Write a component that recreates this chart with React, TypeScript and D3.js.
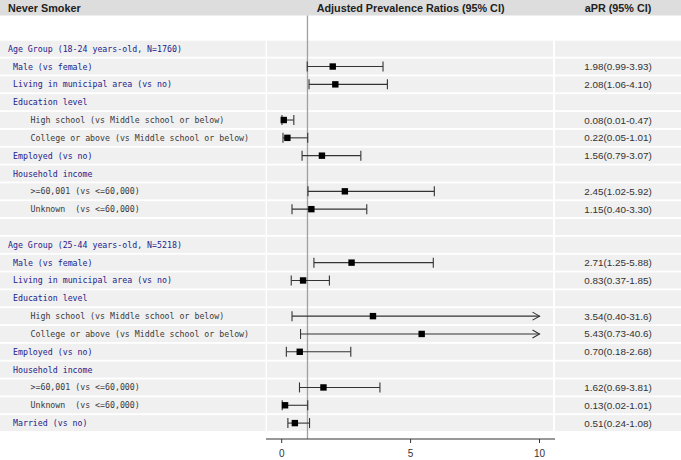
import React from "react";
import * as d3 from "d3";

const labels = [
  "Age Group (18-24 years-old, N=1760)",
  "Male (vs female)",
  "Living in municipal area (vs no)",
  "Education level",
  "High school (vs Middle school or below)",
  "College or above (vs Middle school or below)",
  "Employed (vs no)",
  "Household income",
  ">=60,001 (vs <=60,000)",
  "Unknown  (vs <=60,000)",
  "",
  "Age Group (25-44 years-old, N=5218)",
  "Male (vs female)",
  "Living in municipal area (vs no)",
  "Education level",
  "High school (vs Middle school or below)",
  "College or above (vs Middle school or below)",
  "Employed (vs no)",
  "Household income",
  ">=60,001 (vs <=60,000)",
  "Unknown  (vs <=60,000)",
  "Married (vs no)",
];
const levels = [0, 1, 1, 1, 2, 2, 1, 1, 2, 2, 0, 0, 1, 1, 1, 2, 2, 1, 1, 2, 2, 1];
const estimates: (number | null)[] = [null, 1.98, 2.08, null, 0.08, 0.22, 1.56, null, 2.45, 1.15, null, null, 2.71, 0.83, null, 3.54, 5.43, 0.70, null, 1.62, 0.13, 0.51];
const lowers: (number | null)[] = [null, 0.99, 1.06, null, 0.01, 0.05, 0.79, null, 1.02, 0.40, null, null, 1.25, 0.37, null, 0.40, 0.73, 0.18, null, 0.69, 0.02, 0.24];
const uppers: (number | null)[] = [null, 3.93, 4.10, null, 0.47, 1.01, 3.07, null, 5.92, 3.30, null, null, 5.88, 1.85, null, 31.6, 40.6, 2.68, null, 3.81, 1.01, 1.08];
const ciLabels = ["", "1.98(0.99-3.93)", "2.08(1.06-4.10)", "", "0.08(0.01-0.47)", "0.22(0.05-1.01)", "1.56(0.79-3.07)", "", "2.45(1.02-5.92)", "1.15(0.40-3.30)", "", "", "2.71(1.25-5.88)", "0.83(0.37-1.85)", "", "3.54(0.40-31.6)", "5.43(0.73-40.6)", "0.70(0.18-2.68)", "", "1.62(0.69-3.81)", "0.13(0.02-1.01)", "0.51(0.24-1.08)"];
const xTicks = [0, 5, 10];
const titleLeft = "Never Smoker";
const titleMid = "Adjusted Prevalence Ratios (95% CI)";
const titleRight = "aPR (95% CI)";

export default function App() {
  const W = 681, H = 460;
  const x = d3.scaleLinear().domain([0, 10]).range([281.7, 539.5]);
  const idx = labels.map((_, i) => i);
  const y = d3.scalePoint<number>().domain(idx).range([48.7, 423.1]);
  const bandH = 16;
  const leftCol = [0, 265.5];
  const plotCol = [267, 553];
  const rightCol = [555, 681];
  const axisY = 439;
  const mono = "'DejaVu Sans Mono', monospace";
  const sans = "'Liberation Sans', Arial, sans-serif";
  const clip = (v: number) => Math.min(v, 10);

  return (
    <svg width={W} height={H} style={{ position: "absolute", left: 0, top: 0 }}>
      <rect x={0} y={0} width={W} height={H} fill="#ffffff" />
      {/* header band */}
      <rect x={0} y={0} width={W} height={15.5} fill="#dddddd" />
      <text x={8} y={11.5} fontFamily={sans} fontWeight="bold" fontSize={10.8} fill="#222">{titleLeft}</text>
      <text x={x(5)} y={11.5} textAnchor="middle" fontFamily={sans} fontWeight="bold" fontSize={10.8} fill="#222">{titleMid}</text>
      <text x={(rightCol[0] + rightCol[1]) / 2} y={11.5} textAnchor="middle" fontFamily={sans} fontWeight="bold" fontSize={10.8} fill="#222">{titleRight}</text>
      {/* row bands */}
      {idx.map((i) => {
        const cy = y(i)!;
        return (
          <g key={"band" + i}>
            <rect x={leftCol[0]} y={cy - bandH / 2} width={leftCol[1] - leftCol[0]} height={bandH} fill="#f0f0f0" />
            <rect x={plotCol[0]} y={cy - bandH / 2} width={plotCol[1] - plotCol[0]} height={bandH} fill="#f0f0f0" />
            <rect x={rightCol[0]} y={cy - bandH / 2} width={rightCol[1] - rightCol[0]} height={bandH} fill="#f0f0f0" />
          </g>
        );
      })}
      {/* reference line */}
      <line x1={x(1)} x2={x(1)} y1={15.5} y2={axisY} stroke="#a0a0a0" strokeWidth={1.3} />
      {/* labels */}
      {idx.map((i) => {
        const lv = levels[i];
        const lx = lv === 0 ? 8 : lv === 1 ? 13 : 30.5;
        return (
          <text key={"lab" + i} x={lx} y={y(i)! + 3} fontFamily={mono} fontSize={8.25}
            fill={lv === 2 ? "#3a3a3a" : "#22228a"} style={{ whiteSpace: "pre" }} xmlSpace="preserve">
            {labels[i]}
          </text>
        );
      })}
      {/* CI text */}
      {idx.map((i) => ciLabels[i] ? (
        <text key={"ci" + i} x={(rightCol[0] + rightCol[1]) / 2} y={y(i)! + 3.5} textAnchor="middle" fontFamily={sans} fontSize={9.9} fill="#333">{ciLabels[i]}</text>
      ) : null)}
      {/* error bars */}
      {idx.map((i) => {
        const e = estimates[i], lo = lowers[i], hi = uppers[i];
        if (e == null || lo == null || hi == null) return null;
        const cy = y(i)!;
        const x0 = x(lo), x1 = x(clip(hi));
        const arrow = hi > 10;
        return (
          <g key={"eb" + i} stroke="#333" strokeWidth={1.1} fill="none">
            <line x1={x0} x2={x1} y1={cy} y2={cy} />
            <line x1={x0} x2={x0} y1={cy - 5} y2={cy + 5} />
            {arrow ? (
              <path d={`M${x1 - 7},${cy - 4}L${x1},${cy}L${x1 - 7},${cy + 4}`} />
            ) : (
              <line x1={x1} x2={x1} y1={cy - 5} y2={cy + 5} />
            )}
            <rect x={x(e) - 3.2} y={cy - 3.2} width={6.4} height={6.4} fill="#000" stroke="none" />
          </g>
        );
      })}
      {/* axis */}
      <line x1={266} x2={555} y1={axisY} y2={axisY} stroke="#333" strokeWidth={1} />
      {xTicks.map((t) => (
        <g key={"t" + t}>
          <line x1={x(t)} x2={x(t)} y1={axisY} y2={axisY + 4} stroke="#333" strokeWidth={1} />
          <text x={x(t)} y={axisY + 18} textAnchor="middle" fontFamily={sans} fontSize={10} fill="#333">{t}</text>
        </g>
      ))}
    </svg>
  );
}
